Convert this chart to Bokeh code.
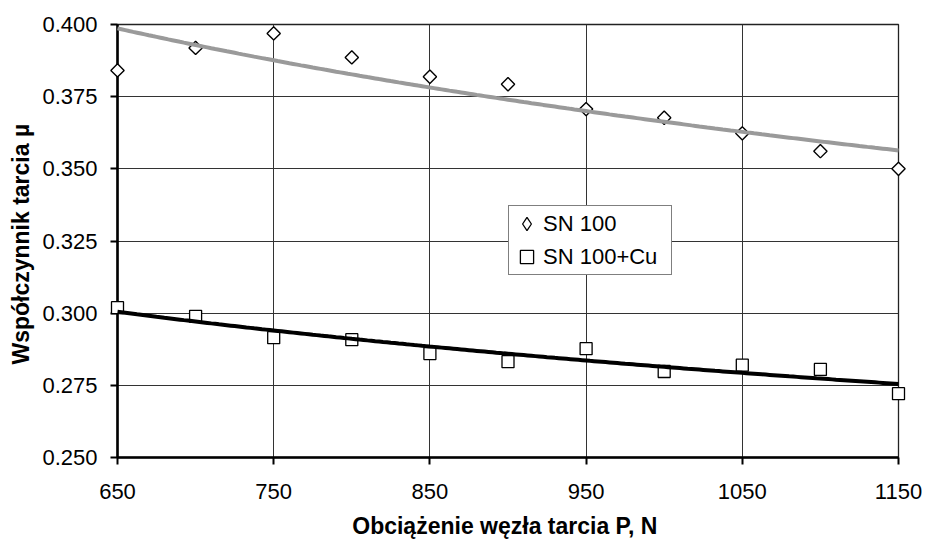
import numpy as np
from bokeh.plotting import figure
from bokeh.models import Range1d, FixedTicker, Legend, LegendItem, NumeralTickFormatter
from bokeh.embed import file_html
from bokeh.resources import INLINE

# ---- data ----
load_N = [650, 700, 750, 800, 850, 900, 950, 1000, 1050, 1100, 1150]
mu_sn100 = [0.3841, 0.3919, 0.3969, 0.3886, 0.3819, 0.3793, 0.3707, 0.3677, 0.3623, 0.3561, 0.3500]
mu_sn100_cu = [0.3019, 0.2989, 0.2915, 0.2908, 0.2860, 0.2832, 0.2877, 0.2798, 0.2820, 0.2805, 0.2721]
series_names = ["SN 100", "SN 100+Cu"]
x_ticks = [650, 750, 850, 950, 1050, 1150]
y_ticks = [0.250, 0.275, 0.300, 0.325, 0.350, 0.375, 0.400]
x_title = "Obciążenie węzła tarcia P,  N"
y_title = "Współczynnik tarcia  µ"

FONT = "Liberation Sans"
FS = "22px"
FS_TITLE = "23px"


def power_trend(x, y, xs):
    # Excel-style power trendline: ln y = ln a + b ln x
    b, ln_a = np.polyfit(np.log(x), np.log(y), 1)
    return np.exp(ln_a) * np.power(xs, b)


p = figure(width=926, height=541,
           x_range=Range1d(650, 1150), y_range=Range1d(0.25, 0.40),
           output_backend="svg", toolbar_location=None, title=None,
           min_border_left=117, min_border_right=28,
           min_border_top=24, min_border_bottom=83)
p.background_fill_color = "white"
p.border_fill_color = "white"
p.outline_line_color = "#222222"
p.outline_line_width = 1.3

# axes
p.xaxis.ticker = FixedTicker(ticks=x_ticks)
p.yaxis.ticker = FixedTicker(ticks=y_ticks)
p.yaxis.formatter = NumeralTickFormatter(format="0.000")
p.xaxis.axis_label = x_title
p.yaxis.axis_label = y_title
for ax in (p.xaxis, p.yaxis):
    ax.axis_line_color = "black"
    ax.axis_line_width = 2.6
    ax.major_tick_line_color = "black"
    ax.major_tick_line_width = 2
    ax.major_tick_out = 7
    ax.major_tick_in = 0
    ax.minor_tick_out = 0
    ax.minor_tick_in = 0
    ax.major_label_text_font = FONT
    ax.major_label_text_font_size = FS
    ax.major_label_text_color = "black"
    ax.axis_label_text_font = FONT
    ax.axis_label_text_font_size = FS_TITLE
    ax.axis_label_text_font_style = "bold"
    ax.axis_label_text_color = "black"
p.yaxis.major_label_standoff = 13
p.yaxis.axis_label_standoff = 5
p.xaxis.major_label_standoff = 19
p.xaxis.axis_label_standoff = 11

# grid
p.xgrid.ticker = FixedTicker(ticks=x_ticks)
p.ygrid.ticker = FixedTicker(ticks=y_ticks)
for g in (p.xgrid, p.ygrid):
    g.grid_line_color = "#333333"
    g.grid_line_width = 1

# markers
r1 = p.scatter(load_N, mu_sn100, marker="square", angle=np.pi / 4, size=9.4,
               fill_color="white", line_color="black", line_width=1.4, level="overlay")
r2 = p.scatter(load_N, mu_sn100_cu, marker="square", size=12,
               fill_color="white", line_color="black", line_width=1.3, level="overlay")
# legend-only diamond symbol (legend markers are drawn unrotated)
r1_key = p.scatter(load_N, mu_sn100, marker="diamond", size=14,
                   fill_color="white", line_color="black", line_width=1.3, visible=False)

# power trendlines
xs = np.linspace(load_N[0], load_N[-1], 201)
p.line(xs, power_trend(load_N, mu_sn100, xs), line_color="#9a9a9a", line_width=4, level="overlay")
p.line(xs, power_trend(load_N, mu_sn100_cu, xs), line_color="black", line_width=4, level="overlay")

legend = Legend(items=[LegendItem(label=series_names[0], renderers=[r1_key]),
                       LegendItem(label=series_names[1], renderers=[r2])],
                location=(391, 182))
legend.click_policy = "none"
legend.inactive_fill_alpha = 0
legend.border_line_color = "black"
legend.border_line_width = 1
legend.background_fill_color = "white"
legend.background_fill_alpha = 1
legend.padding = 1
legend.spacing = 0
legend.margin = 0
legend.glyph_width = 33
legend.glyph_height = 33
legend.label_standoff = 0
legend.label_width = 127
legend.label_text_font = FONT
legend.label_text_font_size = FS
legend.label_text_color = "black"
p.add_layout(legend)

open("out.html", "w").write(file_html(p, INLINE))
